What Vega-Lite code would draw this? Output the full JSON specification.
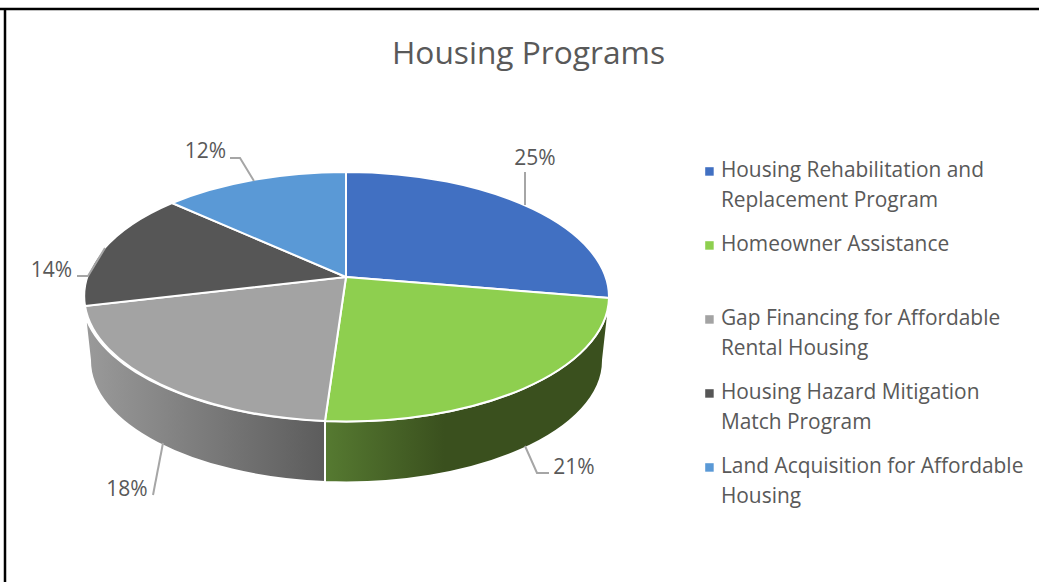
{
"$schema":"https://vega.github.io/schema/vega-lite/v6.json",
"width":1039,"height":582,"autosize":"none","padding":0,
"background":"white",
"view":{"stroke":null},
"title":{"text":"Housing Programs","anchor":"middle","frame":"group","dx":9,"dy":96,"offset":0,"baseline":"alphabetic","font":"Open Sans","fontSize":31.7,"fontWeight":"normal","color":"#595959"},
"data":{"values":[
{"program":"Housing Rehabilitation and Replacement Program","share":0.25},
{"program":"Homeowner Assistance","share":0.21},
{"program":"Gap Financing for Affordable Rental Housing","share":0.18},
{"program":"Housing Hazard Mitigation Match Program","share":0.14},
{"program":"Land Acquisition for Affordable Housing","share":0.12}
]},
"encoding":{
"x":{"datum":0,"type":"quantitative","axis":null,"scale":{"domain":[-346,693],"nice":false,"zero":false}},
"y":{"datum":0,"type":"quantitative","axis":null,"scale":{"domain":[305,-277],"nice":false,"zero":false}}
},
"resolve":{"scale":{"shape":"independent"}},
"layer":[
{"transform":[{"filter":"datum.program=='Homeowner Assistance'"}],
 "mark":{"type":"point","filled":true,"opacity":1,"size":4,"stroke":"white","strokeWidth":2,
 "shape":"M263 21A263 125 0 0 1 -21 144L-21 205A257 122 0 0 0 257 83L262 38Z",
 "fill":{"x1":0,"y1":0,"x2":1,"y2":0,"gradient":"linear","stops":[{"offset":0,"color":"#567a31"},{"offset":0.42,"color":"#3a501e"},{"offset":1,"color":"#3a501e"}]}}},
{"transform":[{"filter":"datum.program=='Gap Financing for Affordable Rental Housing'"}],
 "mark":{"type":"point","filled":true,"opacity":1,"size":4,"stroke":"white","strokeWidth":2,
 "shape":"M-21 144A263 125 0 0 1 -261 38L-256 83A257 122 0 0 0 -21 205Z",
 "fill":{"x1":0,"y1":0,"x2":1,"y2":0,"gradient":"linear","stops":[{"offset":0,"color":"#9a9a9a"},{"offset":1,"color":"#5c5c5c"}]}}},
{"mark":{"type":"point","filled":true,"opacity":1,"size":4,"stroke":"white","strokeWidth":2},
 "encoding":{
 "color":{"field":"program","type":"nominal","sort":null,"scale":{"domain":["Housing Rehabilitation and Replacement Program","Homeowner Assistance","Gap Financing for Affordable Rental Housing","Housing Hazard Mitigation Match Program","Land Acquisition for Affordable Housing"],"range":["#4170c2","#8ecf4f","#a3a3a3","#565656","#5a99d6"]},
  "legend":{"title":null,"orient":"none","legendX":699,"legendY":161,"symbolType":"square","symbolSize":72,"symbolStrokeWidth":0,"symbolOpacity":1,"gridAlign":"all","rowPadding":22,"labelFont":"Open Sans","labelFontSize":20.9,"labelColor":"#595959","labelOffset":1,"labelBaseline":"top","labelLimit":400,
   "labelExpr":"datum.label=='Housing Rehabilitation and Replacement Program'?['Housing Rehabilitation and','Replacement Program']:datum.label=='Gap Financing for Affordable Rental Housing'?['Gap Financing for Affordable','Rental Housing']:datum.label=='Housing Hazard Mitigation Match Program'?['Housing Hazard Mitigation','Match Program']:datum.label=='Land Acquisition for Affordable Housing'?['Land Acquisition for Affordable','Housing']:datum.label",
   "encoding":{"labels":{"lineHeight":{"value":30},"dy":{"value":-11}}}}},
 "shape":{"field":"program","type":"nominal","sort":null,"legend":null,"scale":{"domain":["Housing Rehabilitation and Replacement Program","Homeowner Assistance","Gap Financing for Affordable Rental Housing","Housing Hazard Mitigation Match Program","Land Acquisition for Affordable Housing"],
  "range":["M0 0L0 -105A263 125 0 0 1 263 21Z","M0 0L263 21A263 125 0 0 1 -21 144Z","M0 0L-21 144A263 125 0 0 1 -261 29Z","M0 0L-261 29A263 125 0 0 1 -174 -74Z","M0 0L-174 -74A263 125 0 0 1 0 -105Z"]}}
 }},
{"mark":{"type":"point","filled":false,"opacity":1,"size":4,"stroke":"#a6a6a6","strokeWidth":2},
 "encoding":{"shape":{"field":"program","type":"nominal","sort":null,"legend":null,"scale":{"domain":["Housing Rehabilitation and Replacement Program","Homeowner Assistance","Gap Financing for Affordable Rental Housing","Housing Hazard Mitigation Match Program","Land Acquisition for Affordable Housing"],
  "range":["M179 -105L179 -72","M203 196L191 196L179 169","M-193 218L-183 166","M-269 -1L-258 -1L-241 -29","M-116 -119L-106 -119L-92 -96"]}}}},
{"transform":[{"filter":"datum.share==0.25"}],"mark":{"type":"text","font":"Open Sans","fontSize":21,"color":"#595959"},"encoding":{"text":{"field":"share","format":".0%"},"x":{"datum":189},"y":{"datum":-118}}},
{"transform":[{"filter":"datum.share==0.21"}],"mark":{"type":"text","font":"Open Sans","fontSize":21,"color":"#595959"},"encoding":{"text":{"field":"share","format":".0%"},"x":{"datum":228},"y":{"datum":191}}},
{"transform":[{"filter":"datum.share==0.18"}],"mark":{"type":"text","font":"Open Sans","fontSize":21,"color":"#595959"},"encoding":{"text":{"field":"share","format":".0%"},"x":{"datum":-219},"y":{"datum":213}}},
{"transform":[{"filter":"datum.share==0.14"}],"mark":{"type":"text","font":"Open Sans","fontSize":21,"color":"#595959"},"encoding":{"text":{"field":"share","format":".0%"},"x":{"datum":-294.5},"y":{"datum":-6.5}}},
{"transform":[{"filter":"datum.share==0.12"}],"mark":{"type":"text","font":"Open Sans","fontSize":21,"color":"#595959"},"encoding":{"text":{"field":"share","format":".0%"},"x":{"datum":-140.5},"y":{"datum":-125}}},
{"data":{"values":[{"frame":"top"}]},"mark":{"type":"rule","color":"black","strokeWidth":2.5},"encoding":{"x":{"datum":-346},"x2":{"datum":693},"y":{"datum":-268}}},
{"data":{"values":[{"frame":"left"}]},"mark":{"type":"rule","color":"black","strokeWidth":2.5},"encoding":{"x":{"datum":-341},"y":{"datum":-268},"y2":{"datum":305}}}
]
}
